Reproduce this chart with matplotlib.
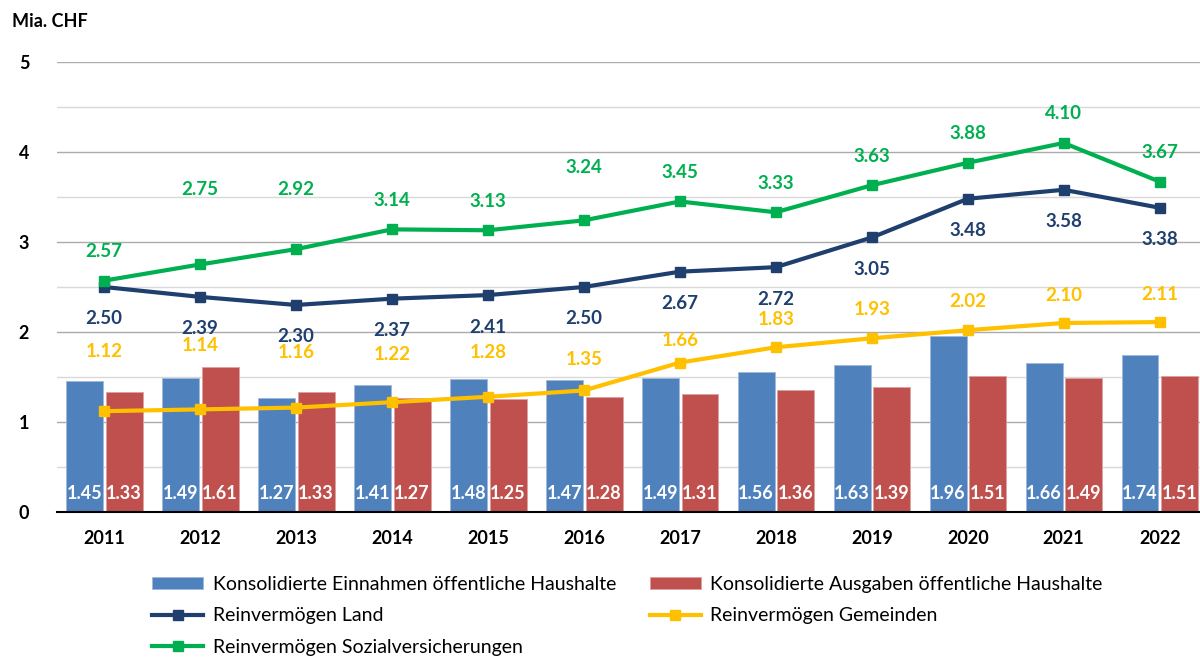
"""Public finances: consolidated revenue/expenditure bars with net asset lines."""

import matplotlib.pyplot as plt
import numpy as np

years = ["2011", "2012", "2013", "2014", "2015", "2016",
         "2017", "2018", "2019", "2020", "2021", "2022"]
einnahmen = [1.45, 1.49, 1.27, 1.41, 1.48, 1.47, 1.49, 1.56, 1.63, 1.96, 1.66, 1.74]
ausgaben = [1.33, 1.61, 1.33, 1.27, 1.25, 1.28, 1.31, 1.36, 1.39, 1.51, 1.49, 1.51]
land = [2.50, 2.39, 2.30, 2.37, 2.41, 2.50, 2.67, 2.72, 3.05, 3.48, 3.58, 3.38]
gemeinden = [1.12, 1.14, 1.16, 1.22, 1.28, 1.35, 1.66, 1.83, 1.93, 2.02, 2.10, 2.11]
sozial = [2.57, 2.75, 2.92, 3.14, 3.13, 3.24, 3.45, 3.33, 3.63, 3.88, 4.10, 3.67]

# label offsets in points (positive = above the marker)
land_off = [-23] * 12
sozial_off = [21, 54, 43, 21, 21, 38, 21, 21, 21, 21, 21, 21]
gemeinden_off = [43, 46, 40, 34, 32, 22, 16, 20, 21, 21, 20, 20]

BLUE = "#4F81BD"
RED = "#C0504D"
NAVY = "#1F3F6E"
GREEN = "#00B050"
YELLOW = "#FFC000"

plt.rcParams["font.family"] = ["Lato", "DejaVu Sans"]

fig = plt.figure(figsize=(12, 6.57), dpi=100)
ax = fig.add_axes([0.0475, 0.2207, 0.9525, 0.685])

x = np.arange(len(years))
w = 0.385
b1 = ax.bar(x - 0.205, einnahmen, w, color=BLUE, edgecolor="#9DB9DD", linewidth=0.6, zorder=2,
            label="Konsolidierte Einnahmen öffentliche Haushalte")
b2 = ax.bar(x + 0.21, ausgaben, w, color=RED, edgecolor="#DDA09E", linewidth=0.6, zorder=2,
            label="Konsolidierte Ausgaben öffentliche Haushalte")

for xi, v in zip(x, einnahmen):
    ax.text(xi - 0.205, 0.2, f"{v:.2f}", ha="center", va="center", color="white",
            fontsize=13, fontweight="bold", zorder=5)
for xi, v in zip(x, ausgaben):
    ax.text(xi + 0.21, 0.2, f"{v:.2f}", ha="center", va="center", color="white",
            fontsize=13, fontweight="bold", zorder=5)

line_kw = dict(linewidth=3, marker="s", markersize=7, zorder=4)
l_land, = ax.plot(x, land, color=NAVY, label="Reinvermögen Land", **line_kw)
l_gem, = ax.plot(x, gemeinden, color=YELLOW, label="Reinvermögen Gemeinden", **line_kw)
l_soz, = ax.plot(x, sozial, color=GREEN, label="Reinvermögen Sozialversicherungen", **line_kw)

for values, offs, color in [(land, land_off, NAVY), (sozial, sozial_off, GREEN),
                            (gemeinden, gemeinden_off, YELLOW)]:
    for xi, v, o in zip(x, values, offs):
        ax.annotate(f"{v:.2f}", (xi, v), xytext=(0, o), textcoords="offset points",
                    ha="center", va="center", color=color, fontsize=13.5,
                    fontweight="bold", zorder=5)

ax.set_xlim(-0.49, 11.42)
ax.set_ylim(0, 5)
ax.set_yticks([0, 1, 2, 3, 4, 5])
ax.set_yticks(np.arange(0.5, 5, 1), minor=True)
ax.grid(axis="y", which="major", color="#ABABAB", linewidth=1, zorder=0)
ax.grid(axis="y", which="minor", color="#D9D9D9", linewidth=1, zorder=0)
ax.set_axisbelow(True)
ax.set_xticks(x)
ax.set_xticklabels(years)
for s in ["top", "right", "left"]:
    ax.spines[s].set_visible(False)
ax.spines["bottom"].set_color("black")
ax.spines["bottom"].set_linewidth(1.5)
ax.tick_params(axis="both", which="both", length=0, labelsize=13)
ax.tick_params(axis="y", pad=20)
ax.tick_params(axis="x", pad=13)
for lbl in ax.get_xticklabels() + ax.get_yticklabels():
    lbl.set_fontweight("bold")

fig.text(0.01, 0.968, "Mia. CHF", fontsize=13, fontweight="bold", va="center")

fig.legend(handles=[b1, l_land, l_soz, b2, l_gem], ncol=2, loc="upper left",
           bbox_to_anchor=(0.1205, 0.135), frameon=False, fontsize=14,
           handlelength=2.6, handleheight=0.55, columnspacing=1.75, labelspacing=0.74,
           handletextpad=0.5, borderaxespad=0)

fig.savefig("out.png", dpi=100)
